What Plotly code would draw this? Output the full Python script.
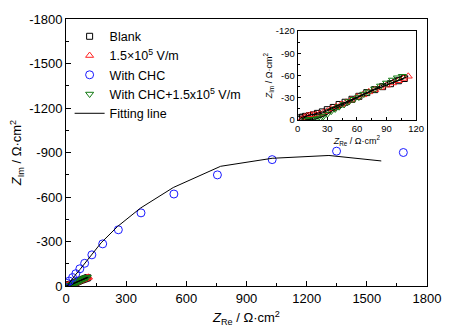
import plotly.graph_objects as go

# ---------------- data ----------------
chc_x = [3, 16, 33, 49, 69, 93, 129, 183, 261, 374, 538, 755, 1028, 1349, 1682]
chc_y = [-18, -33, -57, -83, -116, -153, -210, -284, -379, -493, -620, -749, -852, -909, -900]

fit_x = [5, 20, 50, 70, 95, 130, 175, 257, 371, 535, 771, 1028, 1311, 1572]
fit_y = [0, -28, -80, -112, -155, -208, -291, -401, -525, -664, -807, -861, -880, -843]

blank_x = [2, 3, 5, 8, 12, 16, 20, 25, 30, 36, 42, 48, 55, 62, 70, 78, 86, 94, 102, 108]
blank_y = [-1, -3, -4, -5, -6, -7, -9, -11, -14, -17, -21, -24, -28, -32, -37, -41, -45, -49, -53, -56]

ef_x = [4, 7, 10, 13, 16, 19, 22, 26, 30, 34, 39, 44, 49, 54, 60, 66, 72, 78, 84, 90, 96, 102, 107, 112]
ef_y = [-1, -4, -6, -7, -7, -7, -8, -10, -12, -15, -18, -21, -24, -27, -31, -34, -38, -41, -44, -47, -50, -53, -56, -59]

chcef_x = [8, 11, 14, 17, 20, 23, 26, 30, 34, 38, 42, 47, 52, 57, 62, 67, 72, 78, 84, 90, 96, 101, 106]
chcef_y = [0, -1, -1, -1, -2, -3, -5, -8, -12, -15, -18, -21, -25, -28, -31, -35, -38, -42, -46, -50, -54, -57, -59]

main_xticks = [0, 300, 600, 900, 1200, 1500, 1800]
main_yticks = [0, -300, -600, -900, -1200, -1500, -1800]
main_ytext = ["0", "-300", "-600", "-900", "-1200", "-1500", "-1800"]
ins_xticks = [0, 30, 60, 90, 120]
ins_yticks = [0, -30, -60, -90, -120]
ins_ytext = ["0", "-30", "-60", "-90", "-120"]

FONT = "Arial, Liberation Sans, sans-serif"
BLUE = "#1a1aff"
RED = "#ff2020"
GREEN = "#137a13"

fig = go.Figure()

def small_traces(xa, ya, show):
    fig.add_trace(go.Scatter(x=blank_x, y=blank_y, mode="markers", name="Blank",
                             marker=dict(symbol="square-open", size=6, color="black", line=dict(width=1)),
                             xaxis=xa, yaxis=ya, showlegend=show, legendrank=1))
    fig.add_trace(go.Scatter(x=ef_x, y=ef_y, mode="markers", name="1.5×10<sup>5</sup> V/m",
                             marker=dict(symbol="triangle-up-open", size=7, color=RED, line=dict(width=1)),
                             xaxis=xa, yaxis=ya, showlegend=show, legendrank=2))
    fig.add_trace(go.Scatter(x=chcef_x, y=chcef_y, mode="markers", name="With CHC+1.5x10<sup>5</sup> V/m",
                             marker=dict(symbol="triangle-down-open", size=7, color=GREEN, line=dict(width=1)),
                             xaxis=xa, yaxis=ya, showlegend=show, legendrank=4))
    for xs, ys in [(blank_x, blank_y), (ef_x, ef_y), (chcef_x, chcef_y)]:
        fig.add_trace(go.Scatter(x=xs, y=ys, mode="lines", line=dict(color="black", width=1),
                                 xaxis=xa, yaxis=ya, showlegend=False, hoverinfo="skip"))

small_traces("x", "y", True)
fig.add_trace(go.Scatter(x=chc_x, y=chc_y, mode="markers", name="With CHC",
                         marker=dict(symbol="circle-open", size=8, color=BLUE, line=dict(width=1)),
                         legendrank=3))
fig.add_trace(go.Scatter(x=fit_x, y=fit_y, mode="lines", name="Fitting line",
                         line=dict(color="black", width=1), legendrank=5))
small_traces("x2", "y2", False)

axis_common = dict(showgrid=False, zeroline=False, showline=True, linecolor="black",
                   linewidth=1, mirror=True, ticks="inside", tickcolor="black")

fig.update_layout(
    width=453, height=335,
    margin=dict(l=66, r=20, t=12, b=49),
    paper_bgcolor="white", plot_bgcolor="white",
    font=dict(family=FONT, size=12, color="black"),
    xaxis=dict(range=[0, 1800], tickvals=main_xticks, ticklen=5,
               minor=dict(ticks="inside", ticklen=3, dtick=150, tickcolor="black"),
               title=dict(text="<i>Z</i><sub>Re</sub> / Ω·cm<sup>2</sup>", font=dict(size=13), standoff=8),
               tickfont=dict(size=13), **axis_common),
    yaxis=dict(range=[0, -1800], tickvals=main_yticks, ticktext=main_ytext, ticklen=5,
               minor=dict(ticks="inside", ticklen=3, dtick=150, tickcolor="black"),
               title=dict(text="<i>Z</i><sub>Im</sub> / Ω·cm<sup>2</sup>", font=dict(size=13), standoff=4),
               tickfont=dict(size=13), **axis_common),
    xaxis2=dict(domain=[0.6417, 0.970], anchor="y2", range=[0, 120], tickvals=ins_xticks, ticklen=3,
                minor=dict(ticks="inside", ticklen=2, dtick=15, tickcolor="black"),
                tickfont=dict(size=9.5),
                title=dict(text="<i>Z</i><sub>Re</sub> / Ω·cm<sup>2</sup>", font=dict(size=9), standoff=0),
                **axis_common),
    yaxis2=dict(domain=[0.6215, 0.955], anchor="x2", range=[0, -120], tickvals=ins_yticks,
                ticktext=ins_ytext, ticklen=3,
                minor=dict(ticks="inside", ticklen=2, dtick=15, tickcolor="black"),
                tickfont=dict(size=9.5),
                title=dict(text="<i>Z</i><sub>Im</sub> / Ω·cm<sup>2</sup>", font=dict(size=9), standoff=1),
                **axis_common),
    legend=dict(x=0.01, y=0.99, xanchor="left", yanchor="top", bgcolor="rgba(0,0,0,0)",
                font=dict(size=12.5), tracegroupgap=0, itemwidth=30),
)

fig.write_html("out.html")
